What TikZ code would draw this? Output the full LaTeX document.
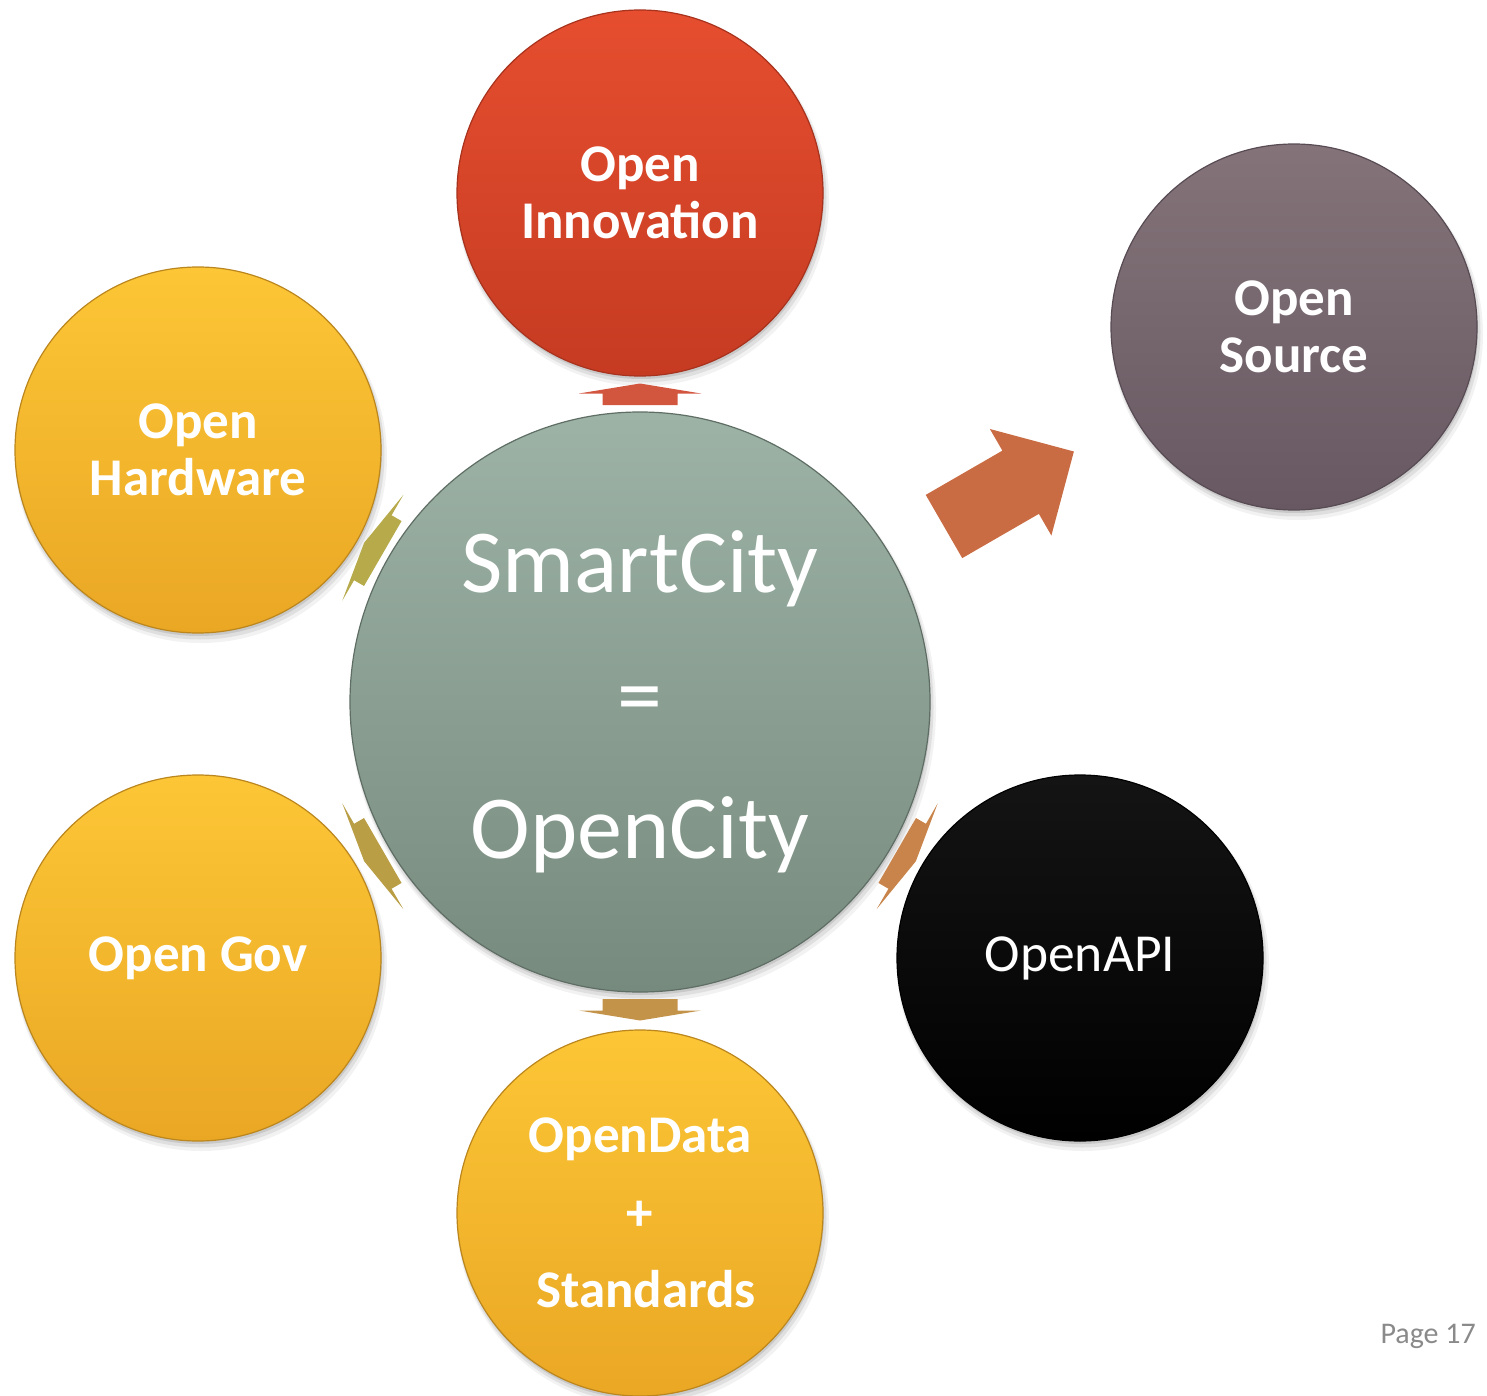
\documentclass[tikz,border=0pt]{standalone}
\usepackage{fontspec}
\setmainfont{Carlito}
\definecolor{cTop}{HTML}{9DB3A6}
\definecolor{cBot}{HTML}{778A7E}
\definecolor{redTop}{HTML}{E64E2F}
\definecolor{redBot}{HTML}{C53B22}
\definecolor{srcTop}{HTML}{847479}
\definecolor{srcBot}{HTML}{675862}
\definecolor{yelTop}{HTML}{FCC636}
\definecolor{yelBot}{HTML}{EAA724}
\definecolor{apiTop}{HTML}{141414}
\definecolor{apiBot}{HTML}{000000}
\definecolor{aInno}{HTML}{D2553D}
\definecolor{aBig}{HTML}{C96C43}
\definecolor{aHw}{HTML}{B6AA4A}
\definecolor{aGov}{HTML}{B99E46}
\definecolor{aApi}{HTML}{C8844A}
\definecolor{aData}{HTML}{C4934A}
\definecolor{pageGray}{HTML}{8A8A8A}
\begin{document}
\begin{tikzpicture}[x=1pt,y=1pt,
  bubble/.style={circle, inner sep=0pt, minimum size=366pt, text=white, align=center,
    font=\fontsize{53}{57}\selectfont\bfseries},
  center bubble/.style={circle, inner sep=0pt, minimum size=580pt, text=white, align=center,
    top color=cTop, bottom color=cBot, draw=cBot!80!black, line width=1.2pt,
    font=\fontsize{90}{133}\selectfont},
  redfill/.style={top color=redTop, bottom color=redBot, draw=redBot!85!black, line width=1.2pt},
  srcfill/.style={top color=srcTop, bottom color=srcBot, draw=srcBot!85!black, line width=1.2pt},
  yelfill/.style={top color=yelTop, bottom color=yelBot, draw=yelBot!80!black, line width=1.2pt},
  apifill/.style={top color=apiTop, bottom color=apiBot, draw=black, line width=1.2pt},
  pagelabel/.style={text=pageGray, font=\fontsize{30}{36}\selectfont, inner sep=0pt, anchor=base east}
]
\useasboundingbox (0,0) rectangle (1487,-1396);

% soft shadows
\foreach \x/\y/\r in {640/-193/183, 1294/-327/183, 198/-450/183, 198/-958/183,
                      640/-1213/183, 1080/-958/183, 640/-702/290}{
  \fill[black,opacity=0.05] (\x+3,\y-7) circle[radius=\r pt+3pt];
  \fill[black,opacity=0.08] (\x+2,\y-5) circle[radius=\r pt+1.5pt];
  \fill[black,opacity=0.10] (\x+1,\y-3) circle[radius=\r pt];
}

% bubbles
\node[center bubble] (city) at (640,-702) {SmartCity\\=\\OpenCity};
\node[bubble, redfill] (inno) at (640,-193) {Open\\Innovation};
\node[bubble, srcfill] (src) at (1294,-327) {Open\\Source};
\node[bubble, yelfill] (hw) at (198,-450) {Open\\Hardware};
\node[bubble, yelfill] (gov) at (198,-958) {Open Gov};
\node[bubble, yelfill, font=\fontsize{53}{77.5}\selectfont\bfseries] (data) at (640,-1213)
  {OpenData\\+\\\hspace*{12pt}Standards};
\node[bubble, apifill, font=\fontsize{53.5}{60}\selectfont] (api) at (1080,-958) {OpenAPI};

% small outward arrows
\foreach \ang/\col in {90/aInno, 150/aHw, 210/aGov, 270/aData, 330/aApi}{
  \begin{scope}[shift={(city.center)}, rotate=\ang]
    \fill[\col] (297,-37.5) -- (308.5,-37.5) -- (308.5,-61) -- (318.5,0)
      -- (308.5,61) -- (308.5,37.5) -- (297,37.5) -- cycle;
  \end{scope}
}

% big arrow towards Open Source
\begin{scope}[shift={(city.center)}, rotate=30]
  \fill[aBig] (351,-36.5) -- (439.5,-36.5) -- (439.5,-61.5) -- (501,0)
    -- (439.5,61.5) -- (439.5,36.5) -- (351,36.5) -- cycle;
\end{scope}

\node[pagelabel] (page) at (1476,-1343) {Page 17};
\end{tikzpicture}
\end{document}
